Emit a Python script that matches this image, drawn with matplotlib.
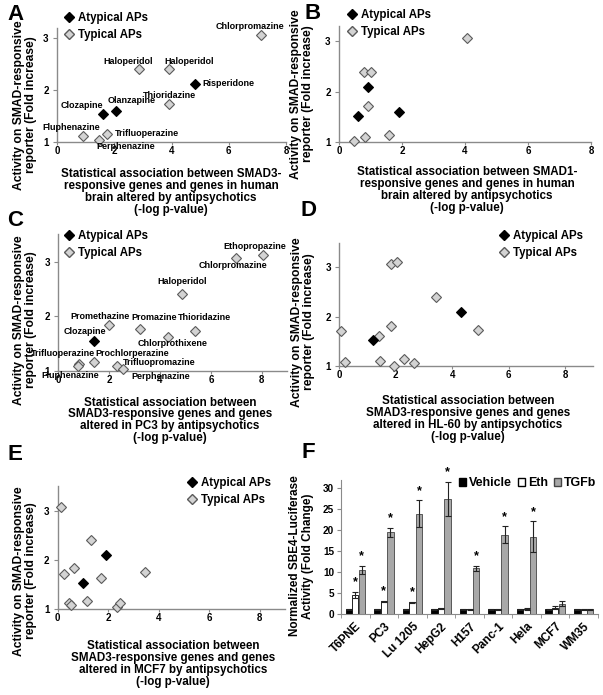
import numpy as np
import matplotlib
matplotlib.use('Agg')
import matplotlib.pyplot as plt
from matplotlib.lines import Line2D
from matplotlib.patches import Patch

plt.rcParams['font.family'] = ['Liberation Sans', 'DejaVu Sans']
plt.rcParams['font.weight'] = 'bold'
plt.rcParams['axes.labelweight'] = 'bold'

W, H = 603, 695

# ---------------- data ----------------
# A: SMAD3 / human brain
a_aty_x = [4.82, 2.05, 1.59]
a_aty_y = [2.11, 1.60, 1.54]
a_aty_names = ['Risperidone', 'Olanzapine', 'Clozapine']
a_typ_x = [7.13, 2.86, 3.92, 3.92, 0.91, 1.73, 1.47]
a_typ_y = [3.06, 2.40, 2.40, 1.72, 1.11, 1.15, 1.03]
a_typ_names = ['Chlorpromazine', 'Haloperidol', 'Haloperidol', 'Thioridazine',
               'Fluphenazine', 'Trifluoperazine', 'Perphenazine']

# B: SMAD1 / human brain
b_aty_x = [0.93, 0.60, 1.90]
b_aty_y = [2.09, 1.53, 1.60]
b_typ_x = [4.05, 0.79, 1.00, 0.93, 0.81, 1.59, 0.48]
b_typ_y = [3.06, 2.40, 2.40, 1.72, 1.11, 1.15, 1.03]

# C: SMAD3 / PC3
c_aty_x = [1.41]
c_aty_y = [1.55]
c_aty_names = ['Clozapine']
c_typ_x = [8.05, 6.99, 4.88, 2.00, 3.21, 5.38, 4.31, 0.82, 0.76, 1.41, 2.29, 2.55]
c_typ_y = [3.12, 3.06, 2.40, 1.84, 1.76, 1.73, 1.62, 1.12, 1.09, 1.16, 1.09, 1.03]
c_typ_names = ['Ethopropazine', 'Chlorpromazine', 'Haloperidol', 'Promethazine',
               'Promazine', 'Thioridazine', 'Chlorprothixene', 'Trifluoperazine',
               'Fluphenazine', 'Prochlorperazine', 'Trifluopromazine', 'Perphenazine']

# D: SMAD3 / HL-60
d_aty_x = [1.18, 4.31]
d_aty_y = [1.53, 2.09]
d_typ_x = [0.05, 0.20, 1.40, 1.44, 1.83, 2.04, 1.82, 1.94, 2.30, 2.63, 3.41, 4.93]
d_typ_y = [1.71, 1.09, 1.61, 1.11, 3.06, 3.11, 1.82, 1.01, 1.14, 1.07, 2.40, 1.74]

# E: SMAD3 / MCF7
e_aty_x = [1.01, 1.92]
e_aty_y = [1.54, 2.11]
e_typ_x = [0.13, 0.26, 0.66, 0.43, 0.51, 1.33, 1.17, 1.70, 2.34, 2.46, 3.46]
e_typ_y = [3.07, 1.72, 1.83, 1.12, 1.08, 2.40, 1.16, 1.63, 1.04, 1.12, 1.75]

# F: SBE4-luciferase
cells = ['T6PNE', 'PC3', 'Lu 1205', 'HepG2', 'H157', 'Panc-1', 'Hela', 'MCF7', 'WM35']
vehicle = [1.0, 1.0, 1.0, 1.0, 1.0, 1.0, 1.0, 1.0, 1.0]
vehicle_err = [0.05] * 9
eth = [4.4, 2.9, 2.7, 1.2, 1.0, 1.0, 1.1, 1.4, 1.0]
eth_err = [0.7, 0.05, 0.1, 0.2, 0.05, 0.05, 0.2, 0.4, 0.05]
tgfb = [10.4, 19.5, 23.9, 27.5, 10.8, 18.9, 18.4, 2.3, 1.0]
tgfb_err = [1.0, 1.1, 3.2, 4.1, 0.6, 2.0, 3.7, 0.6, 0.05]
eth_sig = [True, True, True, False, False, False, False, False, False]
tgfb_sig = [True, True, True, True, True, True, True, False, False]

# label offsets in pixels (dx, dy, ha)
a_aty_off = [(7, 1, 'left'), (16, 10, 'center'), (-21, 8, 'center')]
a_typ_off = [(-11, 9, 'center'), (-11, 8, 'center'), (20, 8, 'center'), (0, 9, 'center'),
             (-12, 9, 'center'), (8, 0, 'left'), (27, -6, 'center')]
c_aty_off = [(-9, 9, 'center')]
c_typ_off = [(-8, 9, 'center'), (-3, -7, 'center'), (0, 13, 'center'), (-9, 8, 'center'),
             (14, 12, 'center'), (9, 13, 'center'), (5, -7, 'center'), (-16, 11, 'center'),
             (-7, -10, 'center'), (38, 8, 'center'), (43, 3, 'center'), (38, -7, 'center')]

TYP_FACE = '#d3d3d3'
TYP_EDGE = '#5a5a5a'
AXCOL = '#8a8a8a'

fig = plt.figure(figsize=(W / 100, H / 100), dpi=100)


def rect(l, r, top, bot):
    return [l / W, 1 - bot / H, (r - l) / W, (bot - top) / H]


def fx(x):
    return x / W


def fy(y):
    return 1 - y / H


def scatter_panel(r, xlim, ylim, ax_, ay_, tx_, ty_, xlab, xlab_c, ylab_c, leg_xy, letter, let_xy):
    ax = fig.add_axes(r)
    ax.plot(tx_, ty_, 'D', ms=4.8, mfc=TYP_FACE, mec=TYP_EDGE, mew=0.8, clip_on=False, zorder=3)
    ax.plot(ax_, ay_, 'D', ms=4.8, mfc='black', mec='black', mew=0.8, clip_on=False, zorder=4)
    ax.set_xlim(xlim)
    ax.set_ylim(ylim)
    ax.set_xticks([0, 2, 4, 6, 8])
    ax.set_yticks([1, 2, 3])
    for s in ['top', 'right']:
        ax.spines[s].set_visible(False)
    for s in ['left', 'bottom']:
        ax.spines[s].set_color(AXCOL)
        ax.spines[s].set_linewidth(1.0)
    ax.tick_params(axis='x', length=2, pad=1, labelsize=7, color=AXCOL)
    ax.tick_params(axis='y', length=3, pad=3, labelsize=7, color=AXCOL)
    fig.text(fx(xlab_c[0]), fy(xlab_c[1]), xlab, ha='center', va='center',
             fontsize=8.4, linespacing=1.0)
    fig.text(fx(ylab_c[0]), fy(ylab_c[1]), 'Activity on SMAD-responsive\nreporter (Fold increase)',
             ha='center', va='center', rotation=90, fontsize=8.7, linespacing=1.1)
    handles = [Line2D([], [], ls='none', marker='D', ms=4.8, mfc='black', mec='black'),
               Line2D([], [], ls='none', marker='D', ms=4.8, mfc=TYP_FACE, mec=TYP_EDGE)]
    ax.legend(handles, ['Atypical APs', 'Typical APs'], loc='upper left',
              bbox_to_anchor=(fx(leg_xy[0] - 3), fy(leg_xy[1] - 9)), bbox_transform=fig.transFigure,
              frameon=False, fontsize=8.3, handlelength=0.6, handletextpad=0.4,
              borderpad=0, borderaxespad=0, labelspacing=0.45)
    fig.text(fx(let_xy[0]), fy(let_xy[1]), letter, ha='center', va='center', fontsize=16)
    return ax


def label_points(ax, xs, ys, names, offs):
    for x, y, n, (dx, dy, ha) in zip(xs, ys, names, offs):
        ax.annotate(n, (x, y), xytext=(dx, dy), textcoords='offset pixels',
                    ha=ha, va='center', fontsize=6.5, zorder=5, annotation_clip=False)


axA = scatter_panel(rect(57, 286, 28, 141.7), (0, 8), (1, 3.2), a_aty_x, a_aty_y, a_typ_x, a_typ_y,
                    'Statistical association between SMAD3-\nresponsive genes and genes in human\n'
                    'brain altered by antipsychotics\n(-log p-value)',
                    (171, 192), (25, 105), (69, 21), 'A', (16, 14))
label_points(axA, a_aty_x, a_aty_y, a_aty_names, a_aty_off)
label_points(axA, a_typ_x, a_typ_y, a_typ_names, a_typ_off)

axB = scatter_panel(rect(339, 591, 26.2, 142.3), (0, 8), (1, 3.3), b_aty_x, b_aty_y, b_typ_x, b_typ_y,
                    'Statistical association between SMAD1-\nresponsive genes and genes in human\n'
                    'brain altered by antipsychotics\n(-log p-value)',
                    (467, 190), (302, 94), (352, 18), 'B', (313, 13.5))

axC = scatter_panel(rect(58.3, 287.3, 234.4, 370.7), (0, 9), (1, 3.5), c_aty_x, c_aty_y, c_typ_x, c_typ_y,
                    'Statistical association between\nSMAD3-responsive genes and genes\n'
                    'altered in PC3 by antipsychotics\n(-log p-value)',
                    (170, 420.5), (25, 320), (69, 239), 'C', (15, 221))
label_points(axC, c_aty_x, c_aty_y, c_aty_names, c_aty_off)
label_points(axC, c_typ_x, c_typ_y, c_typ_names, c_typ_off)

axD = scatter_panel(rect(339.3, 593.3, 242.7, 366), (0, 9), (1, 3.5), d_aty_x, d_aty_y, d_typ_x, d_typ_y,
                    'Statistical association between\nSMAD3-responsive genes and genes\n'
                    'altered in HL-60 by antipsychotics\n(-log p-value)',
                    (468, 419.5), (303, 322), (504, 239), 'D', (309, 211))

axE = scatter_panel(rect(57.7, 285, 486.3, 609.3), (0, 9), (1, 3.5), e_aty_x, e_aty_y, e_typ_x, e_typ_y,
                    'Statistical association between\nSMAD3-responsive genes and genes\n'
                    'altered in MCF7 by antipsychotics\n(-log p-value)',
                    (173, 664), (25, 571), (192, 486), 'E', (15, 455))

# ---------------- panel F ----------------
axF = fig.add_axes(rect(341, 598, 480, 613.5))
pos = np.arange(len(cells))
bw = 0.22
off = 0.23
ekw = dict(ecolor='#222222', elinewidth=0.8, capsize=2.2, capthick=0.8)
axF.bar(pos - off, vehicle, bw, yerr=vehicle_err, color='black', edgecolor='black', lw=0.6,
        error_kw=ekw, label='Vehicle')
axF.bar(pos, eth, bw, yerr=eth_err, color='white', edgecolor='black', lw=0.6,
        error_kw=ekw, label='Eth')
axF.bar(pos + off, tgfb, bw, yerr=tgfb_err, color='#a8a8a8', edgecolor='#444444', lw=0.6,
        error_kw=ekw, label='TGFb')
for i in range(len(cells)):
    if eth_sig[i]:
        axF.text(pos[i], eth[i] + eth_err[i] + 2.3, '*', ha='center', va='center', fontsize=9)
    if tgfb_sig[i]:
        axF.text(pos[i] + off, tgfb[i] + tgfb_err[i] + 2.3, '*', ha='center', va='center', fontsize=9)
axF.set_xlim(-0.5, len(cells) - 0.5)
axF.set_ylim(0, 32)
axF.set_yticks([0, 5, 10, 15, 20, 25, 30])
axF.set_xticks(pos)
axF.set_xticklabels(cells, rotation=45, ha='right', rotation_mode='anchor', fontsize=8.5)
axF.set_xticks(np.arange(len(cells) + 1) - 0.5, minor=True)
axF.tick_params(axis='x', which='major', length=0, pad=5)
axF.tick_params(axis='x', which='minor', length=3, color=AXCOL)
axF.tick_params(axis='y', length=3, pad=2, labelsize=7.2, color=AXCOL)
for s in ['top', 'right']:
    axF.spines[s].set_visible(False)
for s in ['left', 'bottom']:
    axF.spines[s].set_color(AXCOL)
axF.legend(handles=[Patch(fc='black', ec='black'), Patch(fc='white', ec='black'),
                    Patch(fc='#a8a8a8', ec='#444444')],
           labels=['Vehicle', 'Eth', 'TGFb'], ncol=3, loc='center right',
           bbox_to_anchor=(fx(596), fy(483)), bbox_transform=fig.transFigure,
           frameon=False, fontsize=8.9, handlelength=0.6, handleheight=0.6,
           handletextpad=0.2, columnspacing=0.5, borderpad=0, borderaxespad=0)
fig.text(fx(301.5), fy(556), 'Normalized SBE4-Luciferase\nActivity (Fold Change)',
         ha='center', va='center', rotation=90, fontsize=8.5, linespacing=1.2)
fig.text(fx(308), fy(452), 'F', ha='center', va='center', fontsize=16)

fig.savefig('out.png', dpi=100)
